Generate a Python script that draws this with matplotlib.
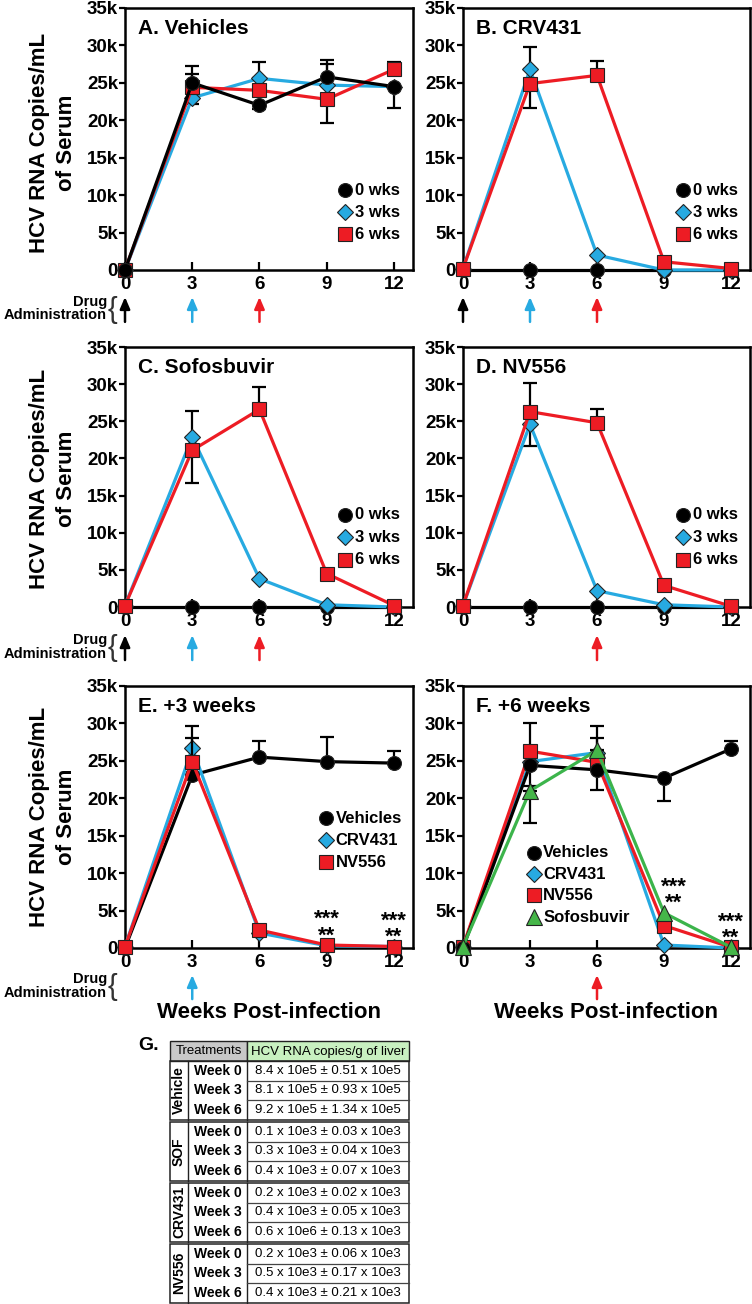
import numpy as np
import matplotlib.pyplot as plt
from matplotlib.patches import Rectangle

plt.rcParams['font.family'] = ['Liberation Sans', 'DejaVu Sans']
plt.rcParams['font.weight'] = 'bold'

weeks = [0, 3, 6, 9, 12]
yticks = [0, 5000, 10000, 15000, 20000, 25000, 30000, 35000]
ytick_labels = ['0', '5k', '10k', '15k', '20k', '25k', '30k', '35k']

# A. Vehicles
A_wk0 = [0, 25000, 22000, 25800, 24500]
A_wk3 = [0, 23000, 25600, 24700, 24500]
A_wk6 = [0, 24400, 24000, 22800, 26800]
A_wk0_err = [[0, 0, 500, 0, 0], [0, 1200, 0, 2300, 0]]
A_wk3_err = [[0, 800, 0, 0, 2900], [0, 0, 2200, 2800, 0]]
A_wk6_err = [[0, 0, 0, 3100, 0], [0, 2900, 0, 0, 1000]]

# B. CRV431
B_wk0 = [0, 0, 0, 0, 0]
B_wk3 = [200, 26800, 2000, 0, 0]
B_wk6 = [200, 24900, 26000, 1100, 200]
B_wk0_err = [[0, 0, 0, 0, 0], [0, 0, 0, 0, 500]]
B_wk3_err = [[0, 0, 0, 0, 0], [0, 3000, 0, 0, 0]]
B_wk6_err = [[0, 3200, 0, 0, 0], [0, 0, 1900, 0, 0]]

# C. Sofosbuvir
C_wk0 = [0, 0, 0, 0, 0]
C_wk3 = [200, 22900, 3800, 300, 0]
C_wk6 = [200, 21100, 26600, 4500, 200]
C_wk0_err = [[0, 0, 0, 0, 0], [0, 0, 0, 0, 0]]
C_wk3_err = [[0, 0, 0, 0, 0], [0, 3500, 0, 0, 0]]
C_wk6_err = [[0, 4400, 0, 0, 0], [0, 0, 3000, 0, 0]]

# D. NV556
D_wk0 = [0, 0, 0, 0, 0]
D_wk3 = [200, 24600, 2200, 300, 0]
D_wk6 = [200, 26300, 24800, 2900, 100]
D_wk0_err = [[0, 0, 0, 0, 0], [0, 0, 0, 0, 0]]
D_wk3_err = [[0, 2900, 0, 0, 0], [0, 0, 0, 0, 0]]
D_wk6_err = [[0, 0, 0, 0, 0], [0, 3900, 1900, 0, 0]]

# E. +3 weeks
E_veh = [0, 23100, 25500, 24900, 24700]
E_crv = [200, 26700, 2000, 300, 200]
E_nv = [200, 24900, 2400, 400, 200]
E_veh_err = [[0, 0, 0, 0, 0], [0, 0, 2200, 3300, 1600]]
E_crv_err = [[0, 0, 0, 0, 0], [0, 3000, 0, 0, 0]]
E_nv_err = [[0, 0, 0, 0, 0], [0, 3100, 0, 0, 0]]

# F. +6 weeks
F_veh = [0, 24400, 23800, 22700, 26600]
F_crv = [200, 24900, 26100, 400, 0]
F_nv = [200, 26300, 24800, 3000, 100]
F_sof = [200, 21000, 26400, 4700, 100]
F_veh_err = [[0, 2700, 2700, 3100, 0], [0, 0, 0, 0, 1100]]
F_crv_err = [[0, 0, 0, 0, 0], [0, 0, 1900, 0, 0]]
F_nv_err = [[0, 0, 0, 0, 0], [0, 3700, 0, 0, 0]]
F_sof_err = [[0, 4300, 0, 0, 0], [0, 0, 3300, 0, 0]]

star_weeks = [9, 12]

# G. liver table
tbl_groups = ['Vehicle', 'SOF', 'CRV431', 'NV556']
tbl_weeks = ['Week 0', 'Week 3', 'Week 6']
tbl_values = [
    ['8.4 x 10e5 ± 0.51 x 10e5', '8.1 x 10e5 ± 0.93 x 10e5', '9.2 x 10e5 ± 1.34 x 10e5'],
    ['0.1 x 10e3 ± 0.03 x 10e3', '0.3 x 10e3 ± 0.04 x 10e3', '0.4 x 10e3 ± 0.07 x 10e3'],
    ['0.2 x 10e3 ± 0.02 x 10e3', '0.4 x 10e3 ± 0.05 x 10e3', '0.6 x 10e6 ± 0.13 x 10e3'],
    ['0.2 x 10e3 ± 0.06 x 10e3', '0.5 x 10e3 ± 0.17 x 10e3', '0.4 x 10e3 ± 0.21 x 10e3'],
]

BLUE = '#27aae1'
RED = '#ed1c24'
GREEN = '#3cb44b'
BLK = dict(c='black', m='o', ms=10, fc='black')
BLU = dict(c=BLUE, m='D', ms=8.4, fc=BLUE)
RD = dict(c=RED, m='s', ms=9.5, fc=RED)
GR = dict(c=GREEN, m='^', ms=11, fc='#45b649')
arrow_col = {0: 'black', 3: BLUE, 6: RED}

W, H = 752, 1304
fig = plt.figure(figsize=(W / 100, H / 100), dpi=100)


def add_ax(l, r, t, b):
    return fig.add_axes([l / W, 1 - b / H, (r - l) / W, (b - t) / H])


def style_ax(ax, title):
    ax.set_xlim(0, 12.85)
    ax.set_ylim(0, 35000)
    ax.set_xticks(weeks)
    ax.set_yticks(yticks)
    ax.set_yticklabels(ytick_labels)
    ax.tick_params(axis='x', direction='in', length=6, width=1.6, pad=4, labelsize=13.5)
    ax.tick_params(axis='y', direction='out', length=4, width=1.6, pad=1, labelsize=13.5)
    for s in ax.spines.values():
        s.set_linewidth(1.8)
    ax.text(0.045, 0.92, title, transform=ax.transAxes, fontsize=15,
            fontweight='bold', va='center', ha='left')


def series(ax, y, err, st, z):
    ax.plot(weeks, y, color=st['c'], lw=2.3, marker=st['m'], ms=st['ms'],
            mfc=st['fc'], mec='#222222', mew=0.8, clip_on=False, zorder=z)
    lo, hi = err
    idx = [i for i in range(len(weeks)) if lo[i] or hi[i]]
    if idx:
        ax.errorbar([weeks[i] for i in idx], [y[i] for i in idx],
                    yerr=[[lo[i] for i in idx], [hi[i] for i in idx]],
                    fmt='none', ecolor='black', elinewidth=1.6, capsize=5,
                    capthick=1.6, zorder=z - 0.5, clip_on=False)


def legend(ax, labels, styles, x0, ys):
    for lab, st, y in zip(labels, styles, ys):
        ax.plot([x0], [y], transform=ax.transAxes, marker=st['m'], ms=st['ms'],
                mfc=st['fc'], mec='#222222', mew=0.8, ls='none', clip_on=False)
        ax.text(x0 + 0.033, y, lab, transform=ax.transAxes, va='center',
                ha='left', fontsize=12)


def arrows(ax, wks, y_top, y_bot):
    tr = ax.get_xaxis_transform()
    for w in wks:
        ax.annotate('', xy=(w, y_top), xytext=(w, y_bot), xycoords=tr, textcoords=tr,
                    arrowprops=dict(arrowstyle='-|>,head_length=0.7,head_width=0.3',
                                    color=arrow_col[w], lw=1.8, mutation_scale=10,
                                    shrinkA=0, shrinkB=0),
                    annotation_clip=False)


def stars(ax, series_list, dx=(0, 0)):
    for w, d in zip(star_weeks, dx):
        i = weeks.index(w)
        top = max(s[i] for s in series_list)
        ax.annotate('***\n**', xy=(w, top), xytext=(d, -1), textcoords='offset points',
                    ha='center', va='bottom', multialignment='center',
                    linespacing=0.7, fontsize=16, fontweight='bold',
                    annotation_clip=False, zorder=10)


wk_labels = ['0 wks', '3 wks', '6 wks']

# row 1
axA = add_ax(125, 413, 8, 270)
style_ax(axA, 'A. Vehicles')
series(axA, A_wk3, A_wk3_err, BLU, 3)
series(axA, A_wk6, A_wk6_err, RD, 4)
series(axA, A_wk0, A_wk0_err, BLK, 5)
legend(axA, wk_labels, [BLK, BLU, RD], 0.765, [0.305, 0.221, 0.137])
arrows(axA, [0, 3, 6], -0.103, -0.198)

axB = add_ax(463, 750, 8, 270)
style_ax(axB, 'B. CRV431')
series(axB, B_wk0, B_wk0_err, BLK, 3)
series(axB, B_wk3, B_wk3_err, BLU, 4)
series(axB, B_wk6, B_wk6_err, RD, 5)
legend(axB, wk_labels, [BLK, BLU, RD], 0.767, [0.305, 0.221, 0.137])
arrows(axB, [0, 3, 6], -0.103, -0.198)

# row 2
axC = add_ax(125, 413, 347, 607)
style_ax(axC, 'C. Sofosbuvir')
series(axC, C_wk0, C_wk0_err, BLK, 3)
series(axC, C_wk3, C_wk3_err, BLU, 4)
series(axC, C_wk6, C_wk6_err, RD, 5)
legend(axC, wk_labels, [BLK, BLU, RD], 0.765, [0.354, 0.269, 0.181])
arrows(axC, [0, 3, 6], -0.108, -0.204)

axD = add_ax(463, 750, 347, 607)
style_ax(axD, 'D. NV556')
series(axD, D_wk0, D_wk0_err, BLK, 3)
series(axD, D_wk3, D_wk3_err, BLU, 4)
series(axD, D_wk6, D_wk6_err, RD, 5)
legend(axD, wk_labels, [BLK, BLU, RD], 0.767, [0.354, 0.269, 0.181])
arrows(axD, [6], -0.108, -0.204)

# row 3
axE = add_ax(125, 413, 686, 948)
style_ax(axE, 'E. +3 weeks')
series(axE, E_veh, E_veh_err, BLK, 3)
series(axE, E_crv, E_crv_err, BLU, 4)
series(axE, E_nv, E_nv_err, RD, 5)
legend(axE, ['Vehicles', 'CRV431', 'NV556'], [BLK, BLU, RD], 0.698, [0.496, 0.412, 0.328])
stars(axE, [E_crv, E_nv])
arrows(axE, [3], -0.103, -0.195)

axF = add_ax(463, 750, 686, 948)
style_ax(axF, 'F. +6 weeks')
series(axF, F_crv, F_crv_err, BLU, 3)
series(axF, F_nv, F_nv_err, RD, 4)
series(axF, F_veh, F_veh_err, BLK, 5)
series(axF, F_sof, F_sof_err, GR, 6)
legend(axF, ['Vehicles', 'CRV431', 'NV556', 'Sofosbuvir'], [BLK, BLU, RD, GR], 0.247,
       [0.363, 0.282, 0.202, 0.118])
stars(axF, [F_crv, F_nv, F_sof], dx=(7, 0))
arrows(axF, [6], -0.103, -0.195)

# overlay in pixel coordinates for labels and the table
ov = fig.add_axes([0, 0, 1, 1])
ov.set_xlim(0, W)
ov.set_ylim(H, 0)
ov.axis('off')

for yc in [143, 479, 817]:
    ov.text(53, yc, 'HCV RNA Copies/mL\nof Serum', rotation=90, ha='center',
            va='center', fontsize=16, linespacing=1.4, multialignment='center')

for y1, y2, yb in [(302, 315, 310), (640, 654, 648), (979, 993, 987)]:
    ov.text(107, y1, 'Drug', ha='right', va='center', fontsize=10.5)
    ov.text(107, y2, 'Administration', ha='right', va='center', fontsize=10.5)
    ov.text(112, yb, '{', ha='center', va='center', fontsize=21,
            fontweight='normal', color='#333333')

for xc in [269, 606]:
    ov.text(xc, 1013, 'Weeks Post-infection', ha='center', va='center', fontsize=16)

# table G
ov.text(149, 1046, 'G.', ha='center', va='center', fontsize=14)
x0, x1, x2, x3 = 170, 188, 247, 409
ov.add_patch(Rectangle((x0, 1041), x2 - x0, 20, fc='#c8c8c8', ec='#222222', lw=1))
ov.add_patch(Rectangle((x2, 1041), x3 - x2, 20, fc='#c8f0c0', ec='#222222', lw=1))
ov.text((x0 + x2) / 2, 1051.5, 'Treatments', ha='center', va='center',
        fontsize=9.5, fontweight='normal')
ov.text((x2 + x3) / 2, 1051.5, 'HCV RNA copies/g of liver', ha='center', va='center',
        fontsize=9.5, fontweight='normal')

group_tops = [1061, 1122, 1183, 1244]
row_h = 19.5
for g, top in enumerate(group_tops):
    bot = top + 3 * row_h
    ov.add_patch(Rectangle((x0, top), x3 - x0, bot - top, fc='none', ec='#222222', lw=1.1))
    ov.plot([x1, x1], [top, bot], color='#222222', lw=1)
    ov.plot([x2, x2], [top, bot], color='#222222', lw=1)
    for r in range(1, 3):
        ov.plot([x2, x3], [top + r * row_h] * 2, color='#444444', lw=0.9)
    ov.text((x0 + x1) / 2, (top + bot) / 2, tbl_groups[g], rotation=90, ha='center',
            va='center', fontsize=10)
    for r in range(3):
        yc = top + (r + 0.5) * row_h
        ov.text((x1 + x2) / 2, yc, tbl_weeks[r], ha='center', va='center', fontsize=10)
        ov.text((x2 + x3) / 2, yc, tbl_values[g][r], ha='center', va='center',
                fontsize=9.5, fontweight='normal')

fig.savefig('out.png', dpi=100)
